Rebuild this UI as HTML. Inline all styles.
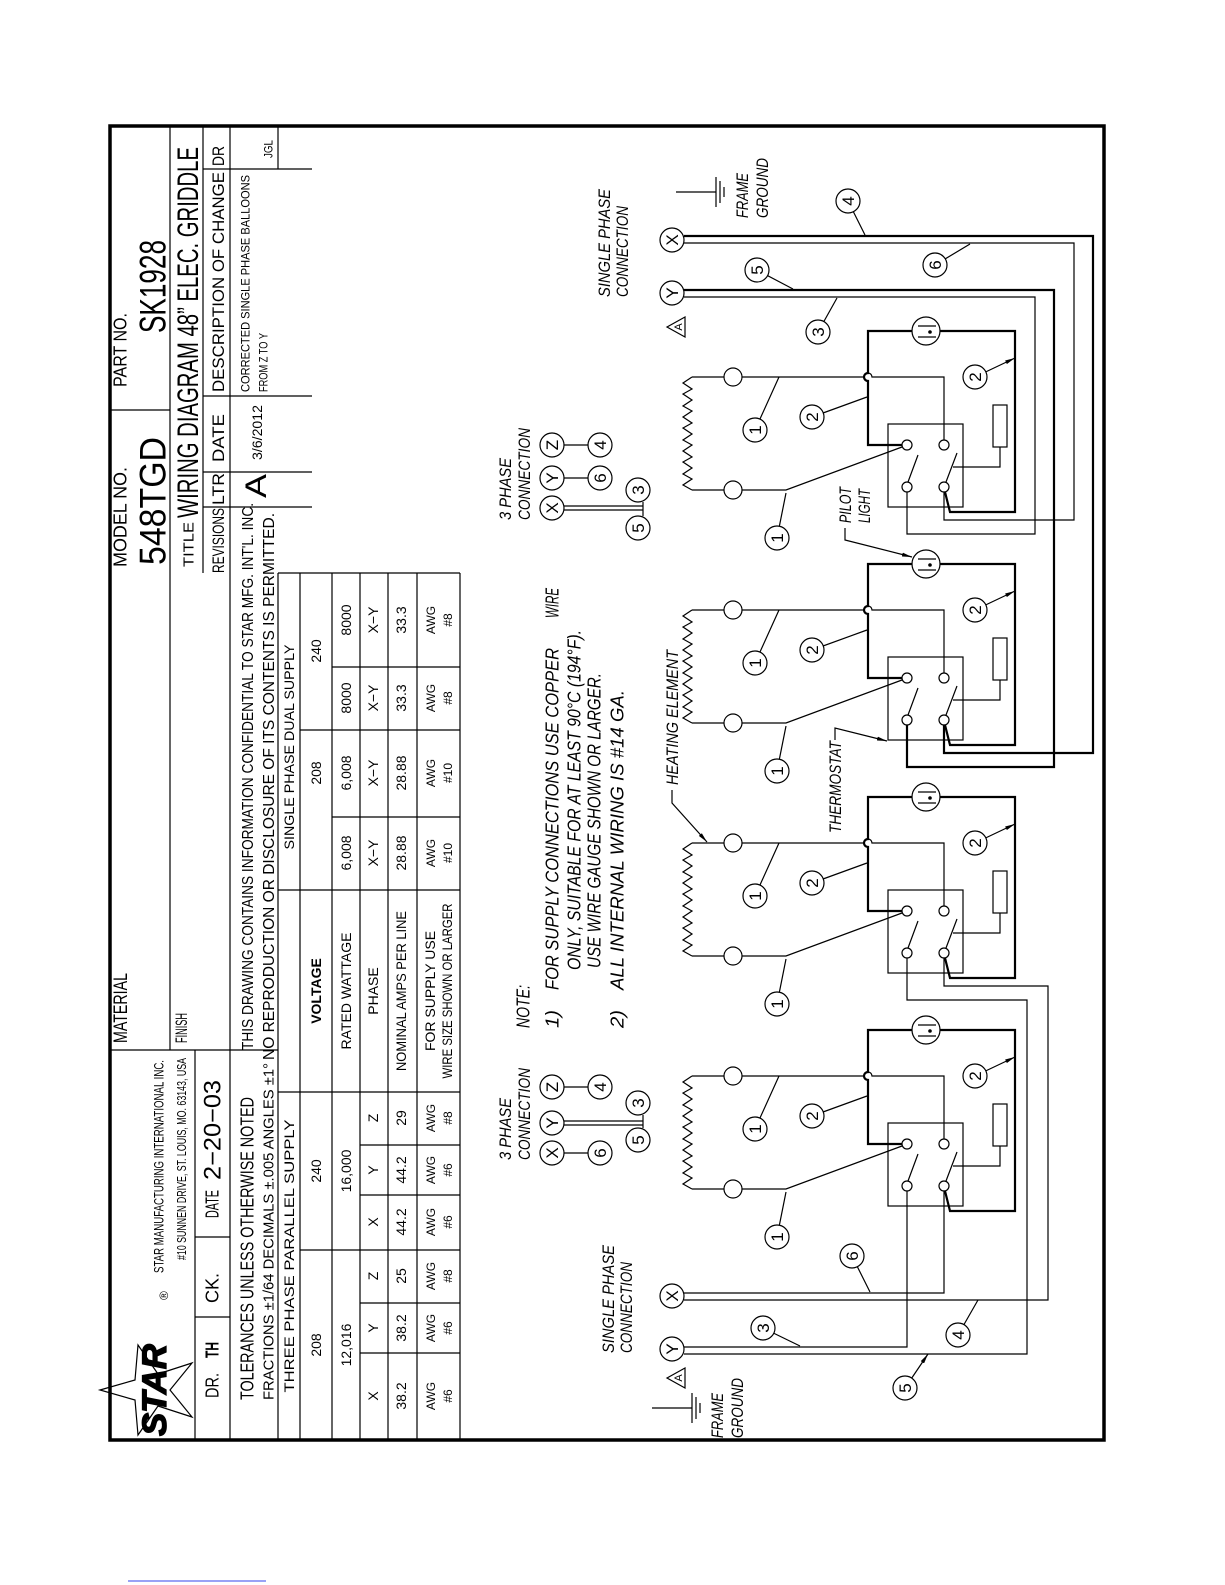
<!DOCTYPE html>
<html><head><meta charset="utf-8"><style>
html,body{margin:0;padding:0;background:#fff;}
svg{display:block;}
text{font-family:"Liberation Sans",sans-serif;fill:#000;}
.i{font-style:italic;}
.ln{stroke:#000;stroke-width:1.2;fill:none;}
.tk{stroke:#000;stroke-width:2.2;fill:none;}
</style></head><body>
<svg width="1225" height="1585" viewBox="0 0 1225 1585" xmlns="http://www.w3.org/2000/svg">
<defs>
<marker id="ah" viewBox="0 0 10 4" refX="10" refY="2" markerWidth="10" markerHeight="4" markerUnits="userSpaceOnUse" orient="auto"><path d="M0,0L10,2L0,4z" fill="#000"/></marker>
</defs>

<rect x="110" y="126" width="994" height="1314" fill="none" stroke="#000" stroke-width="3.5"/>

<g class="ln">
<line x1="170" y1="126" x2="170" y2="1050"/>
<line x1="203" y1="126" x2="203" y2="573"/>
<line x1="230" y1="126" x2="230" y2="1440"/>
<line x1="195" y1="1050" x2="195" y2="1440"/>
<line x1="278" y1="126" x2="278" y2="169"/>
<line x1="278" y1="573" x2="278" y2="1440"/>
<line x1="111" y1="410" x2="170" y2="410"/>
<line x1="203" y1="169" x2="312" y2="169"/>
<line x1="203" y1="396" x2="312" y2="396"/>
<line x1="203" y1="472" x2="312" y2="472"/>
<line x1="203" y1="507" x2="312" y2="507"/>
<line x1="111" y1="1050" x2="278" y2="1050"/>
<line x1="195" y1="1237" x2="230" y2="1237"/>
<line x1="195" y1="1317" x2="230" y2="1317"/>
<line x1="278" y1="573" x2="460" y2="573"/>
<line x1="300" y1="573" x2="300" y2="1440"/>
<line x1="332" y1="573" x2="332" y2="1440"/>
<line x1="360" y1="573" x2="360" y2="1440"/>
<line x1="388" y1="573" x2="388" y2="1440"/>
<line x1="417" y1="573" x2="417" y2="1440"/>
<line x1="460" y1="573" x2="460" y2="1440"/>
<line x1="278" y1="1092" x2="460" y2="1092"/>
<line x1="278" y1="890" x2="460" y2="890"/>
<line x1="300" y1="1250" x2="460" y2="1250"/>
<line x1="300" y1="730" x2="460" y2="730"/>
<line x1="332" y1="667" x2="460" y2="667"/>
<line x1="332" y1="817" x2="460" y2="817"/>
<line x1="360" y1="1145" x2="460" y2="1145"/>
<line x1="360" y1="1195" x2="460" y2="1195"/>
<line x1="360" y1="1303" x2="460" y2="1303"/>
<line x1="360" y1="1353" x2="460" y2="1353"/>
</g>

<g>
<text transform="translate(126.5,567) rotate(-90)" font-size="18" textLength="100" lengthAdjust="spacingAndGlyphs">MODEL NO.</text>
<text transform="translate(165.5,565) rotate(-90)" font-size="37" textLength="128" lengthAdjust="spacingAndGlyphs">548TGD</text>
<text transform="translate(126.5,387) rotate(-90)" font-size="18" textLength="74" lengthAdjust="spacingAndGlyphs">PART NO.</text>
<text transform="translate(165.5,333) rotate(-90)" font-size="37" textLength="93" lengthAdjust="spacingAndGlyphs">SK1928</text>
<text transform="translate(193.5,567) rotate(-90)" font-size="15" textLength="45" lengthAdjust="spacingAndGlyphs">TITLE</text>
<text transform="translate(198,518) rotate(-90)" font-size="30" textLength="371" lengthAdjust="spacingAndGlyphs">WIRING DIAGRAM 48” ELEC. GRIDDLE</text>
<text transform="translate(224,573) rotate(-90)" font-size="17" textLength="65" lengthAdjust="spacingAndGlyphs">REVISIONS</text>
<text transform="translate(224,505) rotate(-90)" font-size="17" textLength="32" lengthAdjust="spacingAndGlyphs">LTR</text>
<text transform="translate(224,462) rotate(-90)" font-size="17" textLength="48" lengthAdjust="spacingAndGlyphs">DATE</text>
<text transform="translate(224,392) rotate(-90)" font-size="17" textLength="220" lengthAdjust="spacingAndGlyphs">DESCRIPTION OF CHANGE</text>
<text transform="translate(224,166) rotate(-90)" font-size="17" textLength="20" lengthAdjust="spacingAndGlyphs">DR</text>
<text transform="translate(266,498) rotate(-90)" font-size="30" textLength="24" lengthAdjust="spacingAndGlyphs">A</text>
<text transform="translate(262,460) rotate(-90)" font-size="14" textLength="55" lengthAdjust="spacingAndGlyphs">3/6/2012</text>
<text transform="translate(249.5,392) rotate(-90)" font-size="12" textLength="217" lengthAdjust="spacingAndGlyphs">CORRECTED SINGLE PHASE BALLOONS</text>
<text transform="translate(267.5,392) rotate(-90)" font-size="12" textLength="59" lengthAdjust="spacingAndGlyphs">FROM Z TO Y</text>
<text transform="translate(272.5,158) rotate(-90)" font-size="12" textLength="18" lengthAdjust="spacingAndGlyphs">JGL</text>
<text transform="translate(253,1050) rotate(-90)" font-size="16" textLength="547" lengthAdjust="spacingAndGlyphs">THIS DRAWING CONTAINS INFORMATION CONFIDENTIAL TO STAR MFG. INT'L. INC.</text>
<text transform="translate(274,1060) rotate(-90)" font-size="16" textLength="547" lengthAdjust="spacingAndGlyphs">NO REPRODUCTION OR DISCLOSURE OF ITS CONTENTS IS PERMITTED.</text>
<text transform="translate(127,1043) rotate(-90)" font-size="19" textLength="70" lengthAdjust="spacingAndGlyphs">MATERIAL</text>
<text transform="translate(187,1043) rotate(-90)" font-size="17" textLength="30" lengthAdjust="spacingAndGlyphs">FINISH</text>
<text transform="translate(163.5,1273) rotate(-90)" font-size="14" textLength="213" lengthAdjust="spacingAndGlyphs">STAR MANUFACTURING INTERNATIONAL INC.</text>
<text transform="translate(186,1260) rotate(-90)" font-size="13" textLength="202" lengthAdjust="spacingAndGlyphs">#10 SUNNEN DRIVE, ST. LOUIS, MO. 63143, USA</text>
<text transform="translate(168,1300) rotate(-90)" font-size="12">®</text>
<text transform="translate(218.5,1398) rotate(-90)" font-size="18" textLength="25" lengthAdjust="spacingAndGlyphs">DR.</text>
<text transform="translate(218.5,1358) rotate(-90)" font-size="18" font-weight="bold" textLength="16" lengthAdjust="spacingAndGlyphs">TH</text>
<text transform="translate(218.5,1303) rotate(-90)" font-size="18" textLength="30" lengthAdjust="spacingAndGlyphs">CK.</text>
<text transform="translate(218.5,1218) rotate(-90)" font-size="18" textLength="28" lengthAdjust="spacingAndGlyphs">DATE</text>
<text transform="translate(220.5,1180) rotate(-90)" font-size="24" textLength="100" lengthAdjust="spacingAndGlyphs">2−20−03</text>
<text transform="translate(253.5,1400) rotate(-90)" font-size="18" textLength="303" lengthAdjust="spacingAndGlyphs">TOLERANCES UNLESS OTHERWISE NOTED</text>
<text transform="translate(273.5,1400) rotate(-90)" font-size="15" textLength="337" lengthAdjust="spacingAndGlyphs">FRACTIONS ±1/64   DECIMALS ±.005   ANGLES ±1°</text>
</g>

<polygon points="150,1340 160,1375 195,1378 166,1398 177,1432 150,1410 123,1432 134,1398 105,1378 140,1375" fill="none" stroke="#000" stroke-width="1.2" transform="rotate(-90 150 1390)"/>
<text class="i" transform="translate(166,1436) rotate(-90)" font-size="34" font-weight="bold" textLength="92" lengthAdjust="spacingAndGlyphs" fill="#fff" stroke="#000" stroke-width="1.3">STAR</text>

<g font-size="14" text-anchor="middle">
<text transform="translate(294,1256) rotate(-90)" textLength="273" lengthAdjust="spacingAndGlyphs">THREE PHASE PARALLEL SUPPLY</text>
<text transform="translate(294,747) rotate(-90)" textLength="205" lengthAdjust="spacingAndGlyphs">SINGLE PHASE DUAL SUPPLY</text>
<text transform="translate(321,991) rotate(-90)" font-weight="bold">VOLTAGE</text>
<text transform="translate(351,991) rotate(-90)">RATED WATTAGE</text>
<text transform="translate(378,991) rotate(-90)">PHASE</text>
<text transform="translate(406,991) rotate(-90)" textLength="160" lengthAdjust="spacingAndGlyphs">NOMINAL AMPS PER LINE</text>
<text transform="translate(435,991) rotate(-90)">FOR SUPPLY USE</text>
<text transform="translate(452,991) rotate(-90)" textLength="175" lengthAdjust="spacingAndGlyphs">WIRE SIZE SHOWN OR LARGER</text>

<text transform="translate(321,1345) rotate(-90)">208</text>
<text transform="translate(321,1171) rotate(-90)">240</text>
<text transform="translate(351,1345) rotate(-90)">12,016</text>
<text transform="translate(351,1171) rotate(-90)">16,000</text>
<text transform="translate(378,1396) rotate(-90)">X</text>
<text transform="translate(378,1328) rotate(-90)">Y</text>
<text transform="translate(378,1276) rotate(-90)">Z</text>
<text transform="translate(378,1222) rotate(-90)">X</text>
<text transform="translate(378,1170) rotate(-90)">Y</text>
<text transform="translate(378,1118) rotate(-90)">Z</text>
<text transform="translate(406,1396) rotate(-90)">38.2</text>
<text transform="translate(406,1328) rotate(-90)">38.2</text>
<text transform="translate(406,1276) rotate(-90)">25</text>
<text transform="translate(406,1222) rotate(-90)">44.2</text>
<text transform="translate(406,1170) rotate(-90)">44.2</text>
<text transform="translate(406,1118) rotate(-90)">29</text>
<g font-size="12">
<text transform="translate(435,1396) rotate(-90)">AWG</text><text transform="translate(452,1396) rotate(-90)">#6</text>
<text transform="translate(435,1328) rotate(-90)">AWG</text><text transform="translate(452,1328) rotate(-90)">#6</text>
<text transform="translate(435,1276) rotate(-90)">AWG</text><text transform="translate(452,1276) rotate(-90)">#8</text>
<text transform="translate(435,1222) rotate(-90)">AWG</text><text transform="translate(452,1222) rotate(-90)">#6</text>
<text transform="translate(435,1170) rotate(-90)">AWG</text><text transform="translate(452,1170) rotate(-90)">#6</text>
<text transform="translate(435,1118) rotate(-90)">AWG</text><text transform="translate(452,1118) rotate(-90)">#8</text>
<text transform="translate(435,853) rotate(-90)">AWG</text><text transform="translate(452,853) rotate(-90)">#10</text>
<text transform="translate(435,773) rotate(-90)">AWG</text><text transform="translate(452,773) rotate(-90)">#10</text>
<text transform="translate(435,698) rotate(-90)">AWG</text><text transform="translate(452,698) rotate(-90)">#8</text>
<text transform="translate(435,620) rotate(-90)">AWG</text><text transform="translate(452,620) rotate(-90)">#8</text>
</g>
<text transform="translate(321,773) rotate(-90)">208</text>
<text transform="translate(321,651) rotate(-90)">240</text>
<text transform="translate(351,853) rotate(-90)">6,008</text>
<text transform="translate(351,773) rotate(-90)">6,008</text>
<text transform="translate(351,698) rotate(-90)">8000</text>
<text transform="translate(351,620) rotate(-90)">8000</text>
<text transform="translate(378,853) rotate(-90)">X−Y</text>
<text transform="translate(378,773) rotate(-90)">X−Y</text>
<text transform="translate(378,698) rotate(-90)">X−Y</text>
<text transform="translate(378,620) rotate(-90)">X−Y</text>
<text transform="translate(406,853) rotate(-90)">28.88</text>
<text transform="translate(406,773) rotate(-90)">28.88</text>
<text transform="translate(406,698) rotate(-90)">33.3</text>
<text transform="translate(406,620) rotate(-90)">33.3</text>
</g>

<g class="i" font-size="18">
<text transform="translate(529.5,1028) rotate(-90)" textLength="43" lengthAdjust="spacingAndGlyphs">NOTE:</text>
<text transform="translate(558.5,1028) rotate(-90)" textLength="18" lengthAdjust="spacingAndGlyphs">1)</text>
<text transform="translate(558.5,990) rotate(-90)" textLength="342" lengthAdjust="spacingAndGlyphs">FOR SUPPLY CONNECTIONS USE COPPER</text>
<text transform="translate(558.5,618) rotate(-90)" textLength="30" lengthAdjust="spacingAndGlyphs">WIRE</text>
<text transform="translate(580.5,970) rotate(-90)" textLength="340" lengthAdjust="spacingAndGlyphs">ONLY, SUITABLE FOR AT LEAST 90°C (194°F).</text>
<text transform="translate(600.5,968) rotate(-90)" textLength="295" lengthAdjust="spacingAndGlyphs">USE WIRE GAUGE SHOWN OR LARGER.</text>
<text transform="translate(623.5,1028) rotate(-90)" textLength="18" lengthAdjust="spacingAndGlyphs">2)</text>
<text transform="translate(623.5,990) rotate(-90)" textLength="300" lengthAdjust="spacingAndGlyphs">ALL INTERNAL WIRING IS #14 GA.</text>
</g>

<g class="i" font-size="17">
<text transform="translate(511,520) rotate(-90)" textLength="62" lengthAdjust="spacingAndGlyphs">3 PHASE</text>
<text transform="translate(530,520) rotate(-90)" textLength="92" lengthAdjust="spacingAndGlyphs">CONNECTION</text>
<text transform="translate(511,1160) rotate(-90)" textLength="62" lengthAdjust="spacingAndGlyphs">3 PHASE</text>
<text transform="translate(530,1160) rotate(-90)" textLength="92" lengthAdjust="spacingAndGlyphs">CONNECTION</text>
<text transform="translate(610,297) rotate(-90)" textLength="108" lengthAdjust="spacingAndGlyphs">SINGLE PHASE</text>
<text transform="translate(628,297) rotate(-90)" textLength="91" lengthAdjust="spacingAndGlyphs">CONNECTION</text>
<text transform="translate(614,1353) rotate(-90)" textLength="108" lengthAdjust="spacingAndGlyphs">SINGLE PHASE</text>
<text transform="translate(632,1353) rotate(-90)" textLength="91" lengthAdjust="spacingAndGlyphs">CONNECTION</text>
<text transform="translate(748,218) rotate(-90)" textLength="45" lengthAdjust="spacingAndGlyphs">FRAME</text>
<text transform="translate(768,218) rotate(-90)" textLength="60" lengthAdjust="spacingAndGlyphs">GROUND</text>
<text transform="translate(723,1438) rotate(-90)" textLength="45" lengthAdjust="spacingAndGlyphs">FRAME</text>
<text transform="translate(743,1438) rotate(-90)" textLength="60" lengthAdjust="spacingAndGlyphs">GROUND</text>
<text transform="translate(678,785) rotate(-90)" textLength="135" lengthAdjust="spacingAndGlyphs">HEATING ELEMENT</text>
<text transform="translate(841,833) rotate(-90)" textLength="92" lengthAdjust="spacingAndGlyphs">THERMOSTAT</text>
<text transform="translate(851,523) rotate(-90)" textLength="36" lengthAdjust="spacingAndGlyphs">PILOT</text>
<text transform="translate(870,523) rotate(-90)" textLength="34" lengthAdjust="spacingAndGlyphs">LIGHT</text>
</g>
<g class="ln">
<path d="M672,790 V803 L707,842" marker-end="url(#ah)"/>
<path d="M835,740 V728 L887,741" marker-end="url(#ah)"/>
<path d="M845,528 V540 L912,557" marker-end="url(#ah)"/>
</g>

<g class="ln">
<line x1="676" y1="192" x2="716" y2="192"/>
<line x1="716" y1="177" x2="716" y2="207"/>
<line x1="720" y1="181" x2="720" y2="203"/>
<line x1="724" y1="187" x2="724" y2="197"/>
<line x1="652" y1="1408" x2="692" y2="1408"/>
<line x1="692" y1="1393" x2="692" y2="1423"/>
<line x1="696" y1="1397" x2="696" y2="1419"/>
<line x1="700" y1="1403" x2="700" y2="1413"/>
<polygon points="667,327 685,317 685,337"/>
<polygon points="667,1378 685,1368 685,1388"/>
</g>
<text transform="translate(682,327) rotate(-90)" font-size="11" text-anchor="middle">A</text>
<text transform="translate(682,1378) rotate(-90)" font-size="11" text-anchor="middle">A</text>

<g id="u">
<polyline class="ln" points="692,377 683,383 692,389 683,394 692,400 683,406 692,411 683,417 692,423 683,428 692,434 683,440 692,445 683,451 692,457 683,462 692,468 683,474 692,479 683,485 692,490"/>
<path class="ln" d="M692,377 H724 M742,377 H864 a4,4 0 0 1 8,0 H944 V440 M692,490 H724 M742,490 H786 L902,447"/>
<path class="tk" d="M902,445 H868 V381 a4,4 0 0 1 0,-8 V331 H912 M940,331 H1015 V512 H950 L945,492"/>
<rect class="ln" x="888" y="424" width="75" height="83"/>
<path class="ln" d="M908,482 L918,455 M946,482 L957,453 M953,467 H1000 V447"/>
<rect class="ln" x="993" y="405" width="14" height="42"/>
<g fill="#fff" stroke="#000" stroke-width="1.2">
<circle cx="733" cy="377" r="9"/><circle cx="733" cy="490" r="9"/>
<circle cx="907" cy="445" r="5"/><circle cx="944" cy="445" r="5"/>
<circle cx="907" cy="487" r="5"/><circle cx="944" cy="487" r="5"/>
<circle cx="926" cy="331" r="14"/>
</g>
<path class="ln" d="M918,326 H936 M918,337 H936"/>
<circle cx="930" cy="332" r="1.8"/>
<path class="ln" d="M755,430 L779,377 M777,538 L786,493 M812,417 L867,397 M975,377 L1015,358" marker-end="url(#ah)"/>
<g fill="#fff" stroke="#000" stroke-width="1.2">
<circle cx="755" cy="430" r="12"/><circle cx="777" cy="538" r="12"/><circle cx="812" cy="417" r="12"/><circle cx="975" cy="377" r="12"/>
</g>
<g font-size="17" text-anchor="middle">
<text transform="translate(761,430) rotate(-90)">1</text>
<text transform="translate(783,538) rotate(-90)">1</text>
<text transform="translate(818,417) rotate(-90)">2</text>
<text transform="translate(981,377) rotate(-90)">2</text>
</g>
</g>
<use href="#u" transform="translate(0,233)"/>
<use href="#u" transform="translate(0,466)"/>
<use href="#u" transform="translate(0,699)"/>

<path class="tk" d="M684,236 H1093 V753 H944 V725"/>
<path class="ln" d="M684,243 H1074 V520 H944 V492"/>
<path class="tk" d="M684,290 H1054 V767 H907 V725"/>
<path class="ln" d="M684,297 H1035 V534 H907 V492"/>
<path class="ln" d="M684,1293 H944 V1191"/>
<path class="ln" d="M684,1300 H1048 V986 H944 V958"/>
<path class="ln" d="M684,1347 H907 V1191"/>
<path class="ln" d="M684,1354 H1027 V1000 H907 V958"/>

<path class="ln" d="M848,201 L865,235 M935,265 L970,244 M757,270 L793,289 M818,332 L837,298 M852,1256 L870,1292 M763,1328 L800,1346 M958,1335 L978,1300 M905,1388 L928,1354" marker-end="url(#ah)"/>

<path class="ln" d="M564,445 H588 M564,478 H588 M564,506 H643 M564,510 H643 M643,502 V516 M564,1087 H588 M564,1153 H588 M564,1121 H643 M564,1125 H643 M643,1115 V1128"/>

<g fill="#fff" stroke="#000" stroke-width="1.2">
<circle cx="672" cy="240" r="12"/><circle cx="672" cy="293" r="12"/>
<circle cx="672" cy="1296" r="12"/><circle cx="672" cy="1349" r="12"/>
<circle cx="848" cy="201" r="12"/><circle cx="935" cy="265" r="12"/><circle cx="757" cy="270" r="12"/><circle cx="818" cy="332" r="12"/>
<circle cx="852" cy="1256" r="12"/><circle cx="763" cy="1328" r="12"/><circle cx="958" cy="1335" r="12"/><circle cx="905" cy="1388" r="12"/>
<circle cx="552" cy="508" r="12"/><circle cx="552" cy="478" r="12"/><circle cx="552" cy="445" r="12"/>
<circle cx="600" cy="445" r="12"/><circle cx="600" cy="478" r="12"/><circle cx="638" cy="490" r="12"/><circle cx="638" cy="528" r="12"/>
<circle cx="552" cy="1153" r="12"/><circle cx="552" cy="1123" r="12"/><circle cx="552" cy="1087" r="12"/>
<circle cx="600" cy="1087" r="12"/><circle cx="600" cy="1153" r="12"/><circle cx="638" cy="1103" r="12"/><circle cx="638" cy="1140" r="12"/>
</g>
<g font-size="17" text-anchor="middle">
<text transform="translate(678,240) rotate(-90)">X</text>
<text transform="translate(678,293) rotate(-90)">Y</text>
<text transform="translate(678,1296) rotate(-90)">X</text>
<text transform="translate(678,1349) rotate(-90)">Y</text>
<text transform="translate(854,201) rotate(-90)">4</text>
<text transform="translate(941,265) rotate(-90)">6</text>
<text transform="translate(763,270) rotate(-90)">5</text>
<text transform="translate(824,332) rotate(-90)">3</text>
<text transform="translate(858,1256) rotate(-90)">6</text>
<text transform="translate(769,1328) rotate(-90)">3</text>
<text transform="translate(964,1335) rotate(-90)">4</text>
<text transform="translate(911,1388) rotate(-90)">5</text>
<text transform="translate(558,508) rotate(-90)">X</text>
<text transform="translate(558,478) rotate(-90)">Y</text>
<text transform="translate(558,445) rotate(-90)">Z</text>
<text transform="translate(606,445) rotate(-90)">4</text>
<text transform="translate(606,478) rotate(-90)">6</text>
<text transform="translate(644,490) rotate(-90)">3</text>
<text transform="translate(644,528) rotate(-90)">5</text>
<text transform="translate(558,1153) rotate(-90)">X</text>
<text transform="translate(558,1123) rotate(-90)">Y</text>
<text transform="translate(558,1087) rotate(-90)">Z</text>
<text transform="translate(606,1087) rotate(-90)">4</text>
<text transform="translate(606,1153) rotate(-90)">6</text>
<text transform="translate(644,1103) rotate(-90)">3</text>
<text transform="translate(644,1140) rotate(-90)">5</text>
</g>

<line x1="128" y1="1581" x2="266" y2="1581" stroke="#3344ee" stroke-width="1"/>
</svg>
</body></html>
